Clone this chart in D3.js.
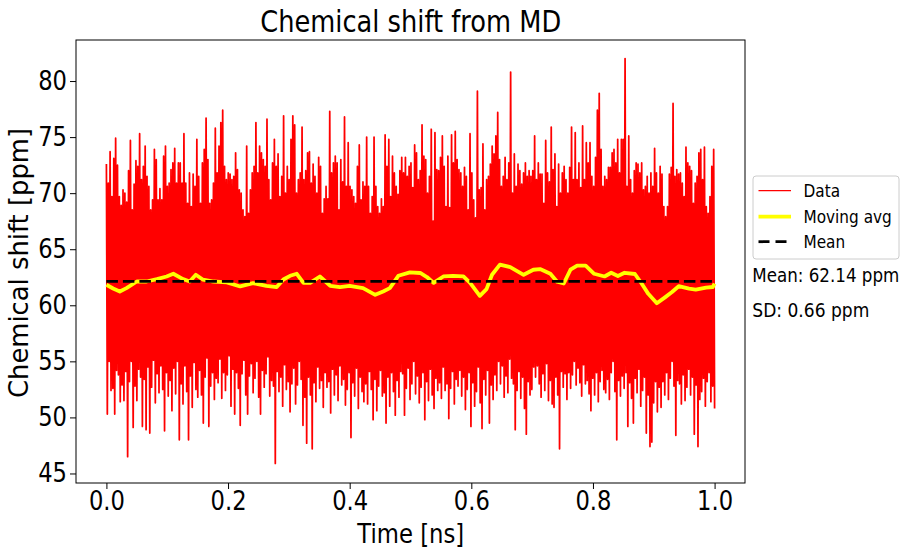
<!DOCTYPE html>
<html><head><meta charset="utf-8">
<script src="https://cdn.jsdelivr.net/npm/d3@7"></script>
<style>body{margin:0;background:#fff} svg{display:block} text{font-family:"DejaVu Sans",sans-serif;fill:#000}</style>
</head><body><svg id="c" width="913" height="548"></svg>
<script>
// Chemical shift samples (ppm), evenly spaced over 0..1 ns
const shiftPpm = [
72.6,50.3,70.9,55.0,73.7,52.4,69.7,52.6,73.1,50.3,74.9,54.2,72.5,53.8,69.7,51.4,68.9,52.9,70.3,51.5,
70.0,54.1,69.2,46.5,72.0,53.2,74.7,55.0,68.5,49.1,70.8,52.8,72.9,51.5,72.4,54.3,75.3,53.6,71.2,49.2,
72.4,53.4,74.2,48.9,71.5,54.5,70.6,48.6,68.5,52.7,69.4,55.1,73.9,51.3,73.0,53.9,69.4,52.2,70.4,54.6,
69.4,52.5,73.3,48.8,74.2,54.0,70.6,51.9,70.9,53.3,72.1,50.6,72.7,54.4,74.0,52.1,70.9,55.0,72.7,48.0,
72.7,53.0,70.9,51.2,75.3,54.6,70.9,52.3,69.1,48.0,71.8,53.7,68.8,50.9,71.7,54.9,70.6,52.5,74.8,51.8,
71.5,54.2,69.1,52.0,72.7,49.5,73.9,53.6,76.7,55.3,73.0,49.2,69.1,52.8,69.4,54.0,70.9,51.6,75.8,53.5,
71.8,53.1,74.2,55.2,76.3,51.7,77.4,54.0,72.4,52.4,71.2,53.8,71.8,55.5,71.7,51.0,71.2,54.3,71.5,50.3,
73.6,54.0,72.1,52.6,70.3,49.3,70.0,53.9,68.5,55.1,67.9,52.0,74.2,50.3,68.2,53.7,70.3,54.8,71.8,52.2,
72.4,53.5,76.3,55.0,71.8,51.8,74.2,50.3,73.6,54.2,73.0,52.7,72.4,53.9,76.6,55.4,71.2,51.9,69.4,53.3,
72.7,52.8,74.8,45.9,72.4,54.1,73.5,52.3,69.7,53.6,71.5,51.0,76.9,54.7,70.0,52.5,72.4,53.2,71.2,50.5,
74.8,53.0,76.9,54.4,76.1,51.2,70.0,52.9,71.2,55.0,71.8,53.4,75.9,49.3,71.2,51.8,72.0,47.7,73.6,53.6,
73.7,52.0,70.9,47.2,72.6,53.1,71.5,51.4,70.0,54.5,73.2,52.6,72.4,53.3,68.2,50.9,69.5,54.0,70.6,52.7,
69.5,53.2,77.3,50.4,71.8,54.3,72.7,52.0,73.3,53.8,72.7,51.5,68.5,54.6,73.0,52.9,71.0,53.4,76.8,51.1,
70.6,52.5,74.5,54.0,70.6,48.2,70.3,53.1,69.7,51.9,69.1,54.4,72.4,50.8,74.3,53.6,69.4,52.3,71.0,51.4,
70.6,53.0,75.0,51.2,70.6,54.1,68.2,52.5,69.7,49.8,75.0,53.4,70.6,50.6,68.8,52.8,68.2,54.2,69.5,51.9,
68.8,52.2,75.2,49.5,72.4,53.6,74.8,51.0,69.7,54.0,73.3,52.3,71.8,50.2,70.6,53.3,69.9,51.8,72.0,54.1,
73.2,53.9,71.8,50.2,73.2,52.6,71.5,54.4,72.4,51.6,72.7,53.0,70.5,55.0,74.3,52.1,73.6,53.7,71.2,51.3,
72.0,52.7,76.1,54.0,73.3,49.8,73.0,53.2,70.0,51.5,71.5,54.3,75.7,52.0,67.5,50.8,75.4,53.5,72.1,52.4,
72.0,53.1,73.2,51.7,75.1,54.5,72.4,52.4,68.8,53.0,73.3,49.9,68.7,52.6,75.2,54.1,72.7,51.2,75.5,53.4,
73.0,52.8,72.1,54.2,71.8,51.9,70.6,53.6,72.3,50.7,71.5,52.5,68.5,54.0,75.3,49.2,71.8,53.1,69.4,51.0,
67.8,52.3,79.1,54.5,70.3,51.3,70.5,49.0,74.4,53.4,68.5,52.0,71.2,54.2,71.5,49.5,72.6,52.9,74.2,51.6,
73.5,53.8,75.1,52.4,77.2,55.0,73.0,53.0,70.6,54.6,71.5,51.8,73.2,53.7,71.2,52.2,72.7,55.2,80.8,53.5,
70.0,53.0,73.5,48.9,70.6,52.4,72.6,54.1,72.0,51.7,70.8,53.6,71.8,50.8,72.7,48.5,71.5,53.2,72.0,52.0,
71.5,52.5,72.0,54.5,75.1,53.6,71.2,54.6,72.7,53.0,71.7,51.8,71.7,53.9,69.1,52.4,74.7,54.8,71.8,51.5,
71.0,53.3,75.9,51.2,72.1,50.9,73.5,53.6,68.8,52.0,72.6,47.2,70.0,54.1,71.8,52.7,72.4,53.9,71.2,51.6,
70.0,54.0,72.3,52.6,75.9,53.8,71.2,55.0,75.4,52.9,71.2,54.4,72.7,53.1,70.5,51.9,76.0,54.7,71.2,53.0,
74.5,53.3,72.7,52.1,74.5,50.6,71.5,53.5,70.6,52.0,73.2,54.0,77.4,51.4,78.9,53.2,73.9,54.2,70.6,52.5,
71.5,52.2,71.2,53.4,72.3,51.6,72.3,54.0,73.6,55.0,73.9,52.3,72.7,48.0,74.8,53.3,71.8,51.9,74.8,53.7,
74.8,52.6,82.0,54.0,70.6,49.2,75.1,53.1,71.2,51.7,70.0,49.5,72.0,53.5,72.7,52.2,72.6,54.3,71.8,51.0,
72.7,52.4,70.3,53.6,70.6,48.6,71.5,52.0,70.0,47.4,71.8,47.8,70.6,51.3,74.0,53.2,71.8,50.5,70.0,52.7,
72.4,50.9,71.7,53.2,68.8,52.0,67.9,54.0,68.8,51.6,71.7,53.5,72.3,55.0,78.0,52.8,71.5,48.4,72.1,53.3,
71.7,53.0,71.8,51.2,70.9,53.8,69.7,51.5,74.1,52.7,72.7,54.3,72.4,52.0,72.0,53.6,69.1,48.5,70.9,52.9,
71.5,47.4,73.6,51.6,73.9,52.3,71.2,53.5,74.1,51.0,68.8,53.2,68.2,54.0,69.7,51.4,72.4,52.8,73.9,50.8
];
// Moving average (ns, ppm)
const avgTime = [0,0.011,0.022,0.033,0.050,0.066,0.083,0.099,0.110,0.126,0.137,0.147,0.159,0.176,0.198,0.220,0.241,0.263,0.280,0.291,0.302,0.313,0.324,0.335,0.351,0.368,0.384,0.400,0.422,0.442,0.455,0.466,0.480,0.499,0.516,0.527,0.538,0.554,0.570,0.587,0.598,0.614,0.625,0.634,0.647,0.664,0.686,0.702,0.713,0.730,0.741,0.752,0.763,0.774,0.788,0.802,0.819,0.830,0.841,0.852,0.869,0.880,0.891,0.905,0.919,0.930,0.941,0.958,0.969,0.986,0.997,1.0];
const avgValue = [61.83,61.5,61.23,61.53,62.12,62.12,62.34,62.57,62.81,62.34,62.12,62.72,62.28,62.12,62.04,61.68,61.98,61.74,61.62,62.3,62.63,62.81,62.0,62.0,62.57,61.74,61.62,61.74,61.53,60.93,61.23,61.53,62.63,62.93,62.88,62.52,62.0,62.57,62.63,62.57,62.0,60.84,61.44,62.72,63.62,63.41,62.72,63.17,63.23,62.81,62.1,61.94,63.17,63.53,63.53,62.81,62.57,62.9,62.61,62.9,62.79,61.94,61.02,60.18,60.73,61.18,61.7,61.48,61.39,61.58,61.63,61.94];
const meanValue = 62.14;
const sdValue = 0.66;
const xTicks = [0, 0.2, 0.4, 0.6, 0.8, 1.0];
const yTicks = [45, 50, 55, 60, 65, 70, 75, 80];
const legendLabels = ["Data", "Moving avg", "Mean"];

const svg = d3.select("#c");
const L = 76, R = 745, T = 40, B = 483;
const SX = 0.87;
const x = d3.scaleLinear().domain([-0.05, 1.05]).range([L, R]);
const y = d3.scaleLinear().domain([44.15, 83.66]).range([B, T]);

const dataPts = shiftPpm.map((v, i) => [i / (shiftPpm.length - 1), v]);
const avgPts = avgTime.map((t, i) => [t, avgValue[i]]);
const meanPts = [[0, meanValue], [1, meanValue]];
const line = d3.line().x(d => x(d[0])).y(d => y(d[1]));

const plot = svg.append("g");
plot.append("path").attr("d", line(dataPts)).attr("fill", "none")
  .attr("stroke", "#ff0000").attr("stroke-width", 1.75).attr("stroke-linejoin", "round");
plot.append("path").attr("d", line(avgPts)).attr("fill", "none")
  .attr("stroke", "#ffff00").attr("stroke-width", 3.8).attr("stroke-linejoin", "round");
plot.append("path").attr("d", line(meanPts)).attr("fill", "none")
  .attr("stroke", "#000").attr("stroke-width", 2.8).attr("stroke-dasharray", "11.5,5");

// frame
svg.append("rect").attr("x", L).attr("y", T).attr("width", R - L).attr("height", B - T)
  .attr("fill", "none").attr("stroke", "#000").attr("stroke-width", 1);

// axes
const xa = svg.append("g").attr("transform", `translate(0,${B})`)
  .call(d3.axisBottom(x).tickValues(xTicks).tickFormat(d3.format(".1f")).tickSize(6).tickPadding(3));
const ya = svg.append("g").attr("transform", `translate(${L},0)`)
  .call(d3.axisLeft(y).tickValues(yTicks).tickFormat(d3.format("d")).tickSize(6).tickPadding(3));
[xa, ya].forEach(a => {
  a.select(".domain").remove();
  a.selectAll(".tick line").attr("stroke", "#000").attr("stroke-width", 1);
  a.selectAll(".tick text").attr("font-size", 26).attr("font-family", "DejaVu Sans").attr("fill", "#000");
});
xa.selectAll(".tick text").attr("transform", `scale(${SX},1)`);
ya.selectAll(".tick text").attr("x", -9 / SX).attr("transform", `scale(${SX},1)`);

function txt(str, px, py, size, len, anchor) {
  return svg.append("text").attr("x", px).attr("y", py).attr("font-size", size)
    .attr("text-anchor", anchor || "start").attr("textLength", len)
    .attr("lengthAdjust", "spacingAndGlyphs").text(str);
}
// text squeezed horizontally with a transform so that its box stays exact
function stxt(str, px, py, size, sx) {
  return svg.append("text").attr("transform", `translate(${px},${py}) scale(${sx},1)`)
    .attr("font-size", size).text(str);
}
txt("Chemical shift from MD", 410.7, 32, 30, 301, "middle");
txt("Time [ns]", 410.7, 543, 26, 107, "middle");
svg.append("text").attr("transform", "translate(28,263) rotate(-90)")
  .attr("text-anchor", "middle").attr("font-size", 26)
  .attr("textLength", 270).attr("lengthAdjust", "spacingAndGlyphs")
  .text("Chemical shift [ppm]");

// legend
const lg = svg.append("g");
lg.append("rect").attr("x", 753).attr("y", 176).attr("width", 146).attr("height", 83)
  .attr("rx", 3).attr("fill", "#fff").attr("stroke", "#cccccc").attr("stroke-width", 1);
const lgY = [190.7, 216.7, 241.7];
const lgStyle = [
  {c: "#ff0000", w: 1.2, d: null},
  {c: "#ffff00", w: 3.8, d: null},
  {c: "#000", w: 2.8, d: "11,6"}
];
legendLabels.forEach((lab, i) => {
  const l = lg.append("line").attr("x1", 758.5).attr("x2", 791).attr("y1", lgY[i]).attr("y2", lgY[i])
    .attr("stroke", lgStyle[i].c).attr("stroke-width", lgStyle[i].w);
  if (lgStyle[i].d) l.attr("stroke-dasharray", lgStyle[i].d);
  stxt(lab, 803.5, lgY[i] + 6.2, 17.4, 0.88);
});
stxt(`Mean: ${meanValue.toFixed(2)} ppm`, 752.3, 281.7, 19, 0.88);
stxt(`SD: ${sdValue.toFixed(2)} ppm`, 752.3, 316.7, 19, 0.9);
</script></body></html>
